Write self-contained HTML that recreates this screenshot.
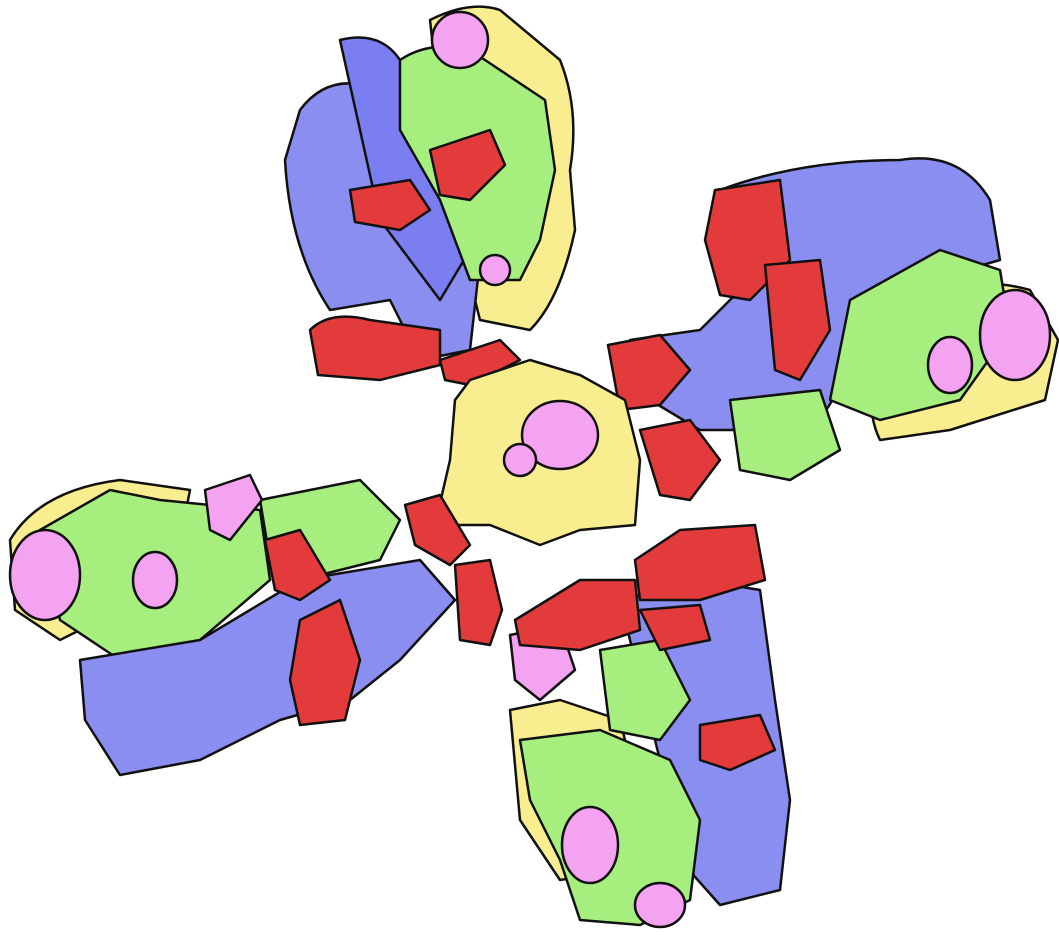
<!DOCTYPE html>
<html><head><meta charset="utf-8"><style>
html,body{margin:0;padding:0;background:#fff;width:1059px;height:935px;overflow:hidden}
svg{display:block}
</style></head><body>
<svg width="1059" height="935" viewBox="0 0 1059 935" stroke="#111" stroke-width="2.5" stroke-linejoin="round">
<g>
  <path fill="#f9ee8f" d="M430 20 Q470 0 500 10 L560 60 Q580 110 570 170 L575 230 Q560 300 530 330 L480 320 L450 200 Z"/>
  <path fill="#8a8ef0" d="M300 110 Q330 70 380 90 L450 160 L480 260 L470 350 L420 360 L390 300 L330 310 Q290 250 285 160 Z"/>
  <path fill="#7a7ef0" d="M340 40 Q380 30 400 60 L420 150 L470 250 L440 300 L380 220 Z"/>
  <path fill="#a6ef7f" d="M400 60 Q430 40 470 50 L545 100 L555 170 L540 240 L520 280 L470 280 L440 200 L400 130 Z"/>
  <circle fill="#f4a3f0" cx="460" cy="40" r="28"/>
  <circle fill="#f4a3f0" cx="495" cy="270" r="15"/>
  <path fill="#e33b3b" d="M310 330 Q330 310 370 320 L440 330 L440 365 L380 380 L318 375 Z"/>
  <path fill="#e33b3b" d="M350 190 L410 180 L430 210 L400 230 L355 222 Z"/>
  <path fill="#e33b3b" d="M430 150 L490 130 L505 165 L470 200 L440 195 Z"/>
  <path fill="#e33b3b" d="M440 360 L500 340 L520 360 L470 385 L445 380 Z"/>
</g>
<g>
  <path fill="#8a8ef0" d="M720 190 Q800 160 900 160 Q960 150 990 200 L1000 260 L930 280 L870 340 L820 420 L760 430 L700 430 L650 400 L630 340 L700 330 L770 260 Z"/>
  <path fill="#f9ee8f" d="M880 310 Q960 270 1030 290 L1058 340 L1045 400 L950 430 L880 440 Q860 400 880 310 Z"/>
  <path fill="#a6ef7f" d="M850 300 L940 250 L1000 270 L1010 330 L960 400 L880 420 L830 400 Z"/>
  <path fill="#a6ef7f" d="M730 400 L820 390 L840 450 L790 480 L740 470 Z"/>
  <ellipse fill="#f4a3f0" cx="1015" cy="335" rx="35" ry="45"/>
  <ellipse fill="#f4a3f0" cx="950" cy="365" rx="22" ry="28"/>
  <path fill="#e33b3b" d="M715 190 L780 180 L790 260 L750 300 L720 295 L705 240 Z"/>
  <path fill="#e33b3b" d="M765 265 L820 260 L830 330 L800 380 L775 370 Z"/>
  <path fill="#e33b3b" d="M608 345 L660 335 L690 370 L660 405 L620 410 Z"/>
  <path fill="#e33b3b" d="M640 430 L690 420 L720 460 L690 500 L660 495 Z"/>
</g>
<g>
  <path fill="#f9ee8f" d="M470 380 L530 360 L580 375 L625 400 L640 460 L635 525 L580 530 L540 545 L490 525 L435 525 L450 460 L455 400 Z"/>
  <ellipse fill="#f4a3f0" cx="560" cy="435" rx="38" ry="34"/>
  <circle fill="#f4a3f0" cx="520" cy="460" r="16"/>
</g>
<g>
  <path fill="#f9ee8f" d="M10 540 Q40 490 120 480 L190 490 L180 540 L140 600 L60 640 L15 610 Z"/>
  <path fill="#a6ef7f" d="M40 530 L110 490 L160 500 L260 510 L270 580 L200 640 L120 660 L60 620 Z"/>
  <path fill="#a6ef7f" d="M260 500 L360 480 L400 520 L380 560 L300 580 L270 560 Z"/>
  <ellipse fill="#f4a3f0" cx="45" cy="575" rx="35" ry="45"/>
  <ellipse fill="#f4a3f0" cx="155" cy="580" rx="22" ry="28"/>
  <path fill="#f4a3f0" d="M205 490 L250 475 L262 500 L230 540 L210 530 Z"/>
  <path fill="#8a8ef0" d="M80 660 L200 640 L300 580 L420 560 L455 600 L400 660 L350 700 L280 720 L200 760 L120 775 L85 720 Z"/>
  <path fill="#e33b3b" d="M300 620 L340 600 L360 660 L345 720 L300 725 L290 680 Z"/>
  <path fill="#e33b3b" d="M265 540 L300 530 L330 580 L300 600 L275 590 Z"/>
  <path fill="#e33b3b" d="M455 565 L490 560 L502 610 L490 645 L460 640 Z"/>
  <path fill="#e33b3b" d="M405 505 L440 495 L470 545 L450 565 L415 545 Z"/>
</g>
<g>
  <path fill="#8a8ef0" d="M620 600 L700 580 L760 590 L775 700 L790 800 L780 890 L720 905 L680 860 L660 760 L640 680 Z"/>
  <path fill="#f9ee8f" d="M510 710 L560 700 L620 720 L640 800 L620 870 L560 880 L520 820 Z"/>
  <path fill="#a6ef7f" d="M520 740 L600 730 L670 760 L700 820 L690 900 L640 925 L580 920 L560 860 L530 800 Z"/>
  <path fill="#a6ef7f" d="M600 650 L660 640 L690 700 L660 740 L610 730 Z"/>
  <ellipse fill="#f4a3f0" cx="590" cy="845" rx="28" ry="38"/>
  <ellipse fill="#f4a3f0" cx="660" cy="905" rx="25" ry="22"/>
  <path fill="#f4a3f0" d="M510 635 L560 625 L575 670 L540 700 L515 680 Z"/>
  <path fill="#e33b3b" d="M635 560 L680 530 L755 525 L765 580 L700 600 L640 600 Z"/>
  <path fill="#e33b3b" d="M515 620 L580 580 L635 580 L640 630 L580 650 L520 645 Z"/>
  <path fill="#e33b3b" d="M700 725 L760 715 L775 750 L730 770 L700 760 Z"/>
  <path fill="#e33b3b" d="M640 610 L700 605 L710 640 L660 650 Z"/>
</g>
</svg>
</body></html>
